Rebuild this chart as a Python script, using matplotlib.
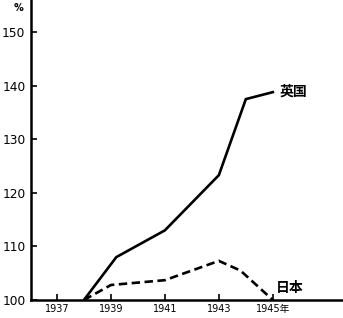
import matplotlib
matplotlib.use("Agg")
import matplotlib.pyplot as plt

plt.rcParams['font.family'] = ['DejaVu Sans', 'Noto Sans CJK SC']

uk_years = [1938, 1939.2, 1941, 1943, 1944, 1945]
uk_vals = [100, 108, 113, 123.3, 137.5, 138.8]
jp_years = [1938, 1939, 1941, 1943, 1943.8, 1945]
jp_vals = [100, 102.8, 103.7, 107.3, 105.5, 100]
xticks = [1937, 1939, 1941, 1943, 1945]
xtick_labels = ['1937', '1939', '1941', '1943', '1945年']
yticks = [100, 110, 120, 130, 140, 150]

fig = plt.figure(figsize=(3.43, 3.18), dpi=100)
ax = fig.add_axes([31/343, 18/318, 312/343, 300/318])
ax.plot(uk_years, uk_vals, color='black', lw=1.9, solid_joinstyle='miter')
ax.plot(jp_years, jp_vals, color='black', lw=1.9, dashes=(3.2, 1.7))

ax.set_xlim(1936.04, 1947.6)
ax.set_ylim(100, 156)
ax.set_xticks(xticks)
ax.set_xticklabels(xtick_labels, fontsize=7)
ax.set_yticks(yticks)
ax.set_yticklabels([str(v) for v in yticks], fontsize=8.8)
ax.tick_params(axis='both', direction='in', length=4, width=1.2, pad=3)
ax.tick_params(axis='y', pad=4)
for s in ['top', 'right']:
    ax.spines[s].set_visible(False)
for s in ['left', 'bottom']:
    ax.spines[s].set_linewidth(1.8)

ax.text(1945.25, 138.8, '英国', fontsize=10, va='center', ha='left', fontweight='bold')
ax.text(1945.1, 102.3, '日本', fontsize=10, va='center', ha='left', fontweight='bold')
fig.text(18/343, 1 - 8/318, '%', fontsize=7, ha='center', va='center', fontweight='bold')

fig.savefig('out.png', dpi=100)
